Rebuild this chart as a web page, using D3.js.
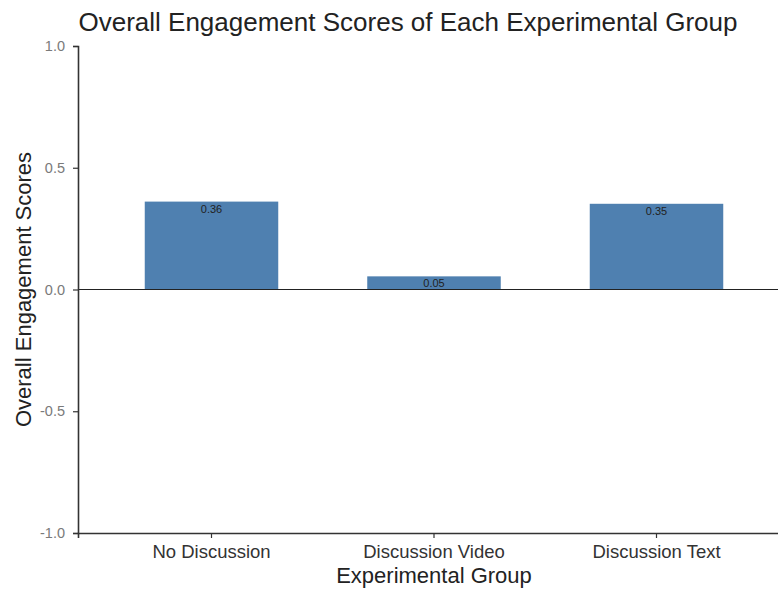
<!DOCTYPE html>
<html>
<head>
<meta charset="utf-8">
<script src="https://cdn.jsdelivr.net/npm/d3@7"></script>
<style>
  body { margin: 0; background: #fff; }
  svg { display: block; font-family: "Liberation Sans", Arial, sans-serif; }
</style>
</head>
<body>
<div id="chart"></div>
<script>
// Data
const groups = ["No Discussion", "Discussion Video", "Discussion Text"];
const scores = [0.361, 0.054, 0.352];
const yTicks = [-1.0, -0.5, 0.0, 0.5, 1.0];

const dimensions = {
  width: 778,
  height: 589,
  margin: { top: 46, right: -12, bottom: 56, left: 78 },
};
dimensions.innerWidth =
  dimensions.width - dimensions.margin.left - dimensions.margin.right;
dimensions.innerHeight =
  dimensions.height - dimensions.margin.top - dimensions.margin.bottom;

const svg = d3
  .select("#chart")
  .append("svg")
  .attr("width", dimensions.width)
  .attr("height", dimensions.height);

const graph = svg
  .append("g")
  .attr(
    "transform",
    `translate(${dimensions.margin.left}, ${dimensions.margin.top})`
  );

// Scales
const xScale = d3
  .scaleBand()
  .domain(groups)
  .range([0, dimensions.innerWidth])
  .paddingInner(0.4)
  .paddingOuter(0.3);

const yScale = d3
  .scaleLinear()
  .domain([-1, 1])
  .range([dimensions.innerHeight, 0]);

// Bars
graph
  .selectAll("rect.bar")
  .data(scores)
  .join("rect")
  .attr("class", "bar")
  .attr("x", (d, i) => xScale(groups[i]))
  .attr("width", xScale.bandwidth())
  .attr("y", (d) => yScale(Math.max(0, d)))
  .attr("height", (d) => Math.abs(yScale(d) - yScale(0)))
  .attr("fill", "#4f80b0");

// Value labels
graph
  .selectAll("text.value")
  .data(scores)
  .join("text")
  .attr("class", "value")
  .attr("x", (d, i) => xScale(groups[i]) + xScale.bandwidth() / 2)
  .attr("y", (d) => yScale(d) + 11)
  .attr("text-anchor", "middle")
  .style("font-size", "11px")
  .style("fill", "#222")
  .text((d) => d.toFixed(2));

// Zero line
graph
  .append("line")
  .attr("x1", 0)
  .attr("x2", dimensions.innerWidth)
  .attr("y1", yScale(0))
  .attr("y2", yScale(0))
  .attr("stroke", "#222")
  .attr("stroke-width", 1);

// Axes
const xAxis = graph
  .append("g")
  .attr("transform", `translate(0, ${dimensions.innerHeight})`)
  .call(d3.axisBottom(xScale).tickSizeOuter(0).tickSize(5).tickPadding(7));

const yAxis = graph
  .append("g")
  .call(
    d3
      .axisLeft(yScale)
      .tickValues(yTicks)
      .tickFormat((d) => d.toFixed(1))
      .tickSizeOuter(0)
      .tickSize(5)
      .tickPadding(8)
  );

[xAxis, yAxis].forEach((ax) => {
  ax.select(".domain").attr("stroke", "#333").attr("stroke-width", 1.6);
  ax.selectAll(".tick line").attr("stroke", "#333").attr("stroke-width", 1.2);
  ax.attr("font-family", null);
});
xAxis.selectAll(".tick text").style("font-size", "18.5px").style("fill", "#333");
yAxis.selectAll(".tick text").style("font-size", "14.5px").style("fill", "#7a7a7a");

// Title
svg
  .append("text")
  .attr("x", 408)
  .attr("y", 31)
  .attr("text-anchor", "middle")
  .style("font-size", "26px")
  .style("fill", "#222")
  .text("Overall Engagement Scores of Each Experimental Group");

// Axis labels
svg
  .append("text")
  .attr("x", 434)
  .attr("y", 583)
  .attr("text-anchor", "middle")
  .style("font-size", "22px")
  .style("fill", "#222")
  .text("Experimental Group");

svg
  .append("text")
  .attr("transform", `translate(31, ${dimensions.margin.top + yScale(0)}) rotate(-90)`)
  .attr("text-anchor", "middle")
  .style("font-size", "22px")
  .style("fill", "#222")
  .text("Overall Engagement Scores");
</script>
</body>
</html>
